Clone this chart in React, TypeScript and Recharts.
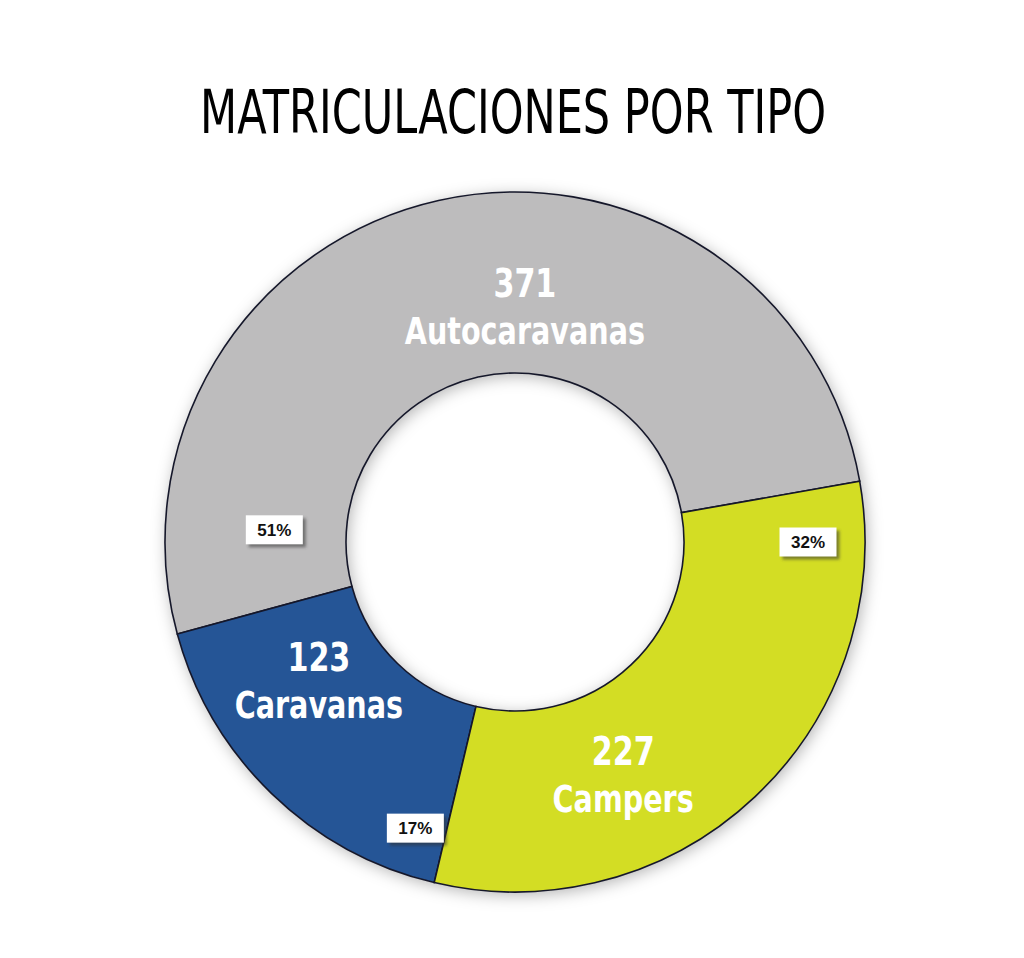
import { PieChart, Pie, Cell } from 'recharts';

const CATEGORIES = ['Autocaravanas', 'Caravanas', 'Campers'];
const VALUES = [371, 123, 227];
const PCT_LABELS = ['51%', '17%', '32%'];
const COLORS = ['#BDBCBD', '#255596', '#D3DD24'];

const TITLE = 'MATRICULACIONES POR TIPO';

// where each slice's texts sit (degrees, counterclockwise from 3 o'clock; radius px)
const LABEL_LAYOUT = [
  { angle: 87.6, r: 236, boxAngle: 177.1, boxR: 241 },
  { angle: 215.2, r: 240, boxAngle: 250.8, boxR: 303 },
  { angle: 295.0, r: 256, boxAngle: 0, boxR: 293 },
];

const data = CATEGORIES.map((name, i) => ({ name, value: VALUES[i] }));
const ring = [{ name: 'ring', value: 1 }];

const W = 1024;
const H = 958;
const CX = 515;
const CY = 542;
const RADIAN = Math.PI / 180;
const NARROW = "'Liberation Sans Narrow', 'DejaVu Sans Condensed', 'DejaVu Sans', sans-serif";
const SQUEEZE = 0.86;

const polar = (cx: number, cy: number, r: number, a: number) => ({
  x: cx + r * Math.cos(-a * RADIAN),
  y: cy + r * Math.sin(-a * RADIAN),
});

const renderLabel = (props: any) => {
  const { index } = props;
  const cx = typeof props.cx === 'number' ? props.cx : CX;
  const cy = typeof props.cy === 'number' ? props.cy : CY;
  const lay = LABEL_LAYOUT[index];
  const t = polar(cx, cy, lay.r, lay.angle);
  const b = polar(cx, cy, lay.boxR, lay.boxAngle);
  const bw = 57;
  const bh = 29;
  return (
    <g key={`lbl-${index}`}>
      <g transform={`translate(${t.x},0) scale(${SQUEEZE},1) translate(${-t.x},0)`}>
        <text x={t.x} y={t.y - 9} textAnchor="middle" fill="#fff" fontFamily={NARROW} fontWeight="bold" fontSize={39}>
          {VALUES[index]}
        </text>
        <text x={t.x} y={t.y + 38} textAnchor="middle" fill="#fff" fontFamily={NARROW} fontWeight="bold" fontSize={37}>
          {CATEGORIES[index]}
        </text>
      </g>
      <rect x={b.x - bw / 2 + 3} y={b.y - bh / 2 + 3} width={bw} height={bh} fill="#333" opacity={0.55} filter="url(#boxBlur)" />
      <rect x={b.x - bw / 2} y={b.y - bh / 2} width={bw} height={bh} fill="#fff" />
      <text x={b.x} y={b.y + 6} textAnchor="middle" fill="#111" fontFamily="'Liberation Sans', Arial, sans-serif" fontWeight="bold" fontSize={17}>
        {PCT_LABELS[index]}
      </text>
    </g>
  );
};

export default function App() {
  return (
    <div style={{ position: 'absolute', left: 0, top: 0, width: W, height: H, background: '#fff' }}>
      <svg width={0} height={0} style={{ position: 'absolute' }}>
        <defs>
          <filter id="ringShadow" x="-20%" y="-20%" width="140%" height="140%">
            <feDropShadow dx="2" dy="3" stdDeviation="8" floodColor="#000" floodOpacity="0.3" />
          </filter>
          <filter id="boxBlur" x="-30%" y="-30%" width="160%" height="160%">
            <feGaussianBlur stdDeviation="1.5" />
          </filter>
        </defs>
      </svg>
      <PieChart width={W} height={H} margin={{ top: 0, right: 0, bottom: 0, left: 0 }}>
        <Pie
          data={ring}
          dataKey="value"
          cx={CX}
          cy={CY}
          innerRadius={169}
          outerRadius={350}
          stroke="none"
          isAnimationActive={false}
          label={false}
        >
          <Cell fill="#fff" filter="url(#ringShadow)" />
        </Pie>
        <Pie
          data={data}
          dataKey="value"
          nameKey="name"
          cx={CX}
          cy={CY}
          innerRadius={169}
          outerRadius={350}
          startAngle={10}
          endAngle={370}
          stroke="#15172a"
          strokeWidth={1.6}
          isAnimationActive={false}
          labelLine={false}
          label={renderLabel}
        >
          {data.map((_, i) => (
            <Cell key={`cell-${i}`} fill={COLORS[i]} />
          ))}
        </Pie>
      </PieChart>
      <svg width={W} height={160} style={{ position: 'absolute', left: 0, top: 0, pointerEvents: 'none' }}>
        <text
          x={200}
          y={133}
          textLength={626}
          lengthAdjust="spacingAndGlyphs"
          fill="#000"
          fontFamily={NARROW}
          fontSize={60}
        >
          {TITLE}
        </text>
      </svg>
    </div>
  );
}
